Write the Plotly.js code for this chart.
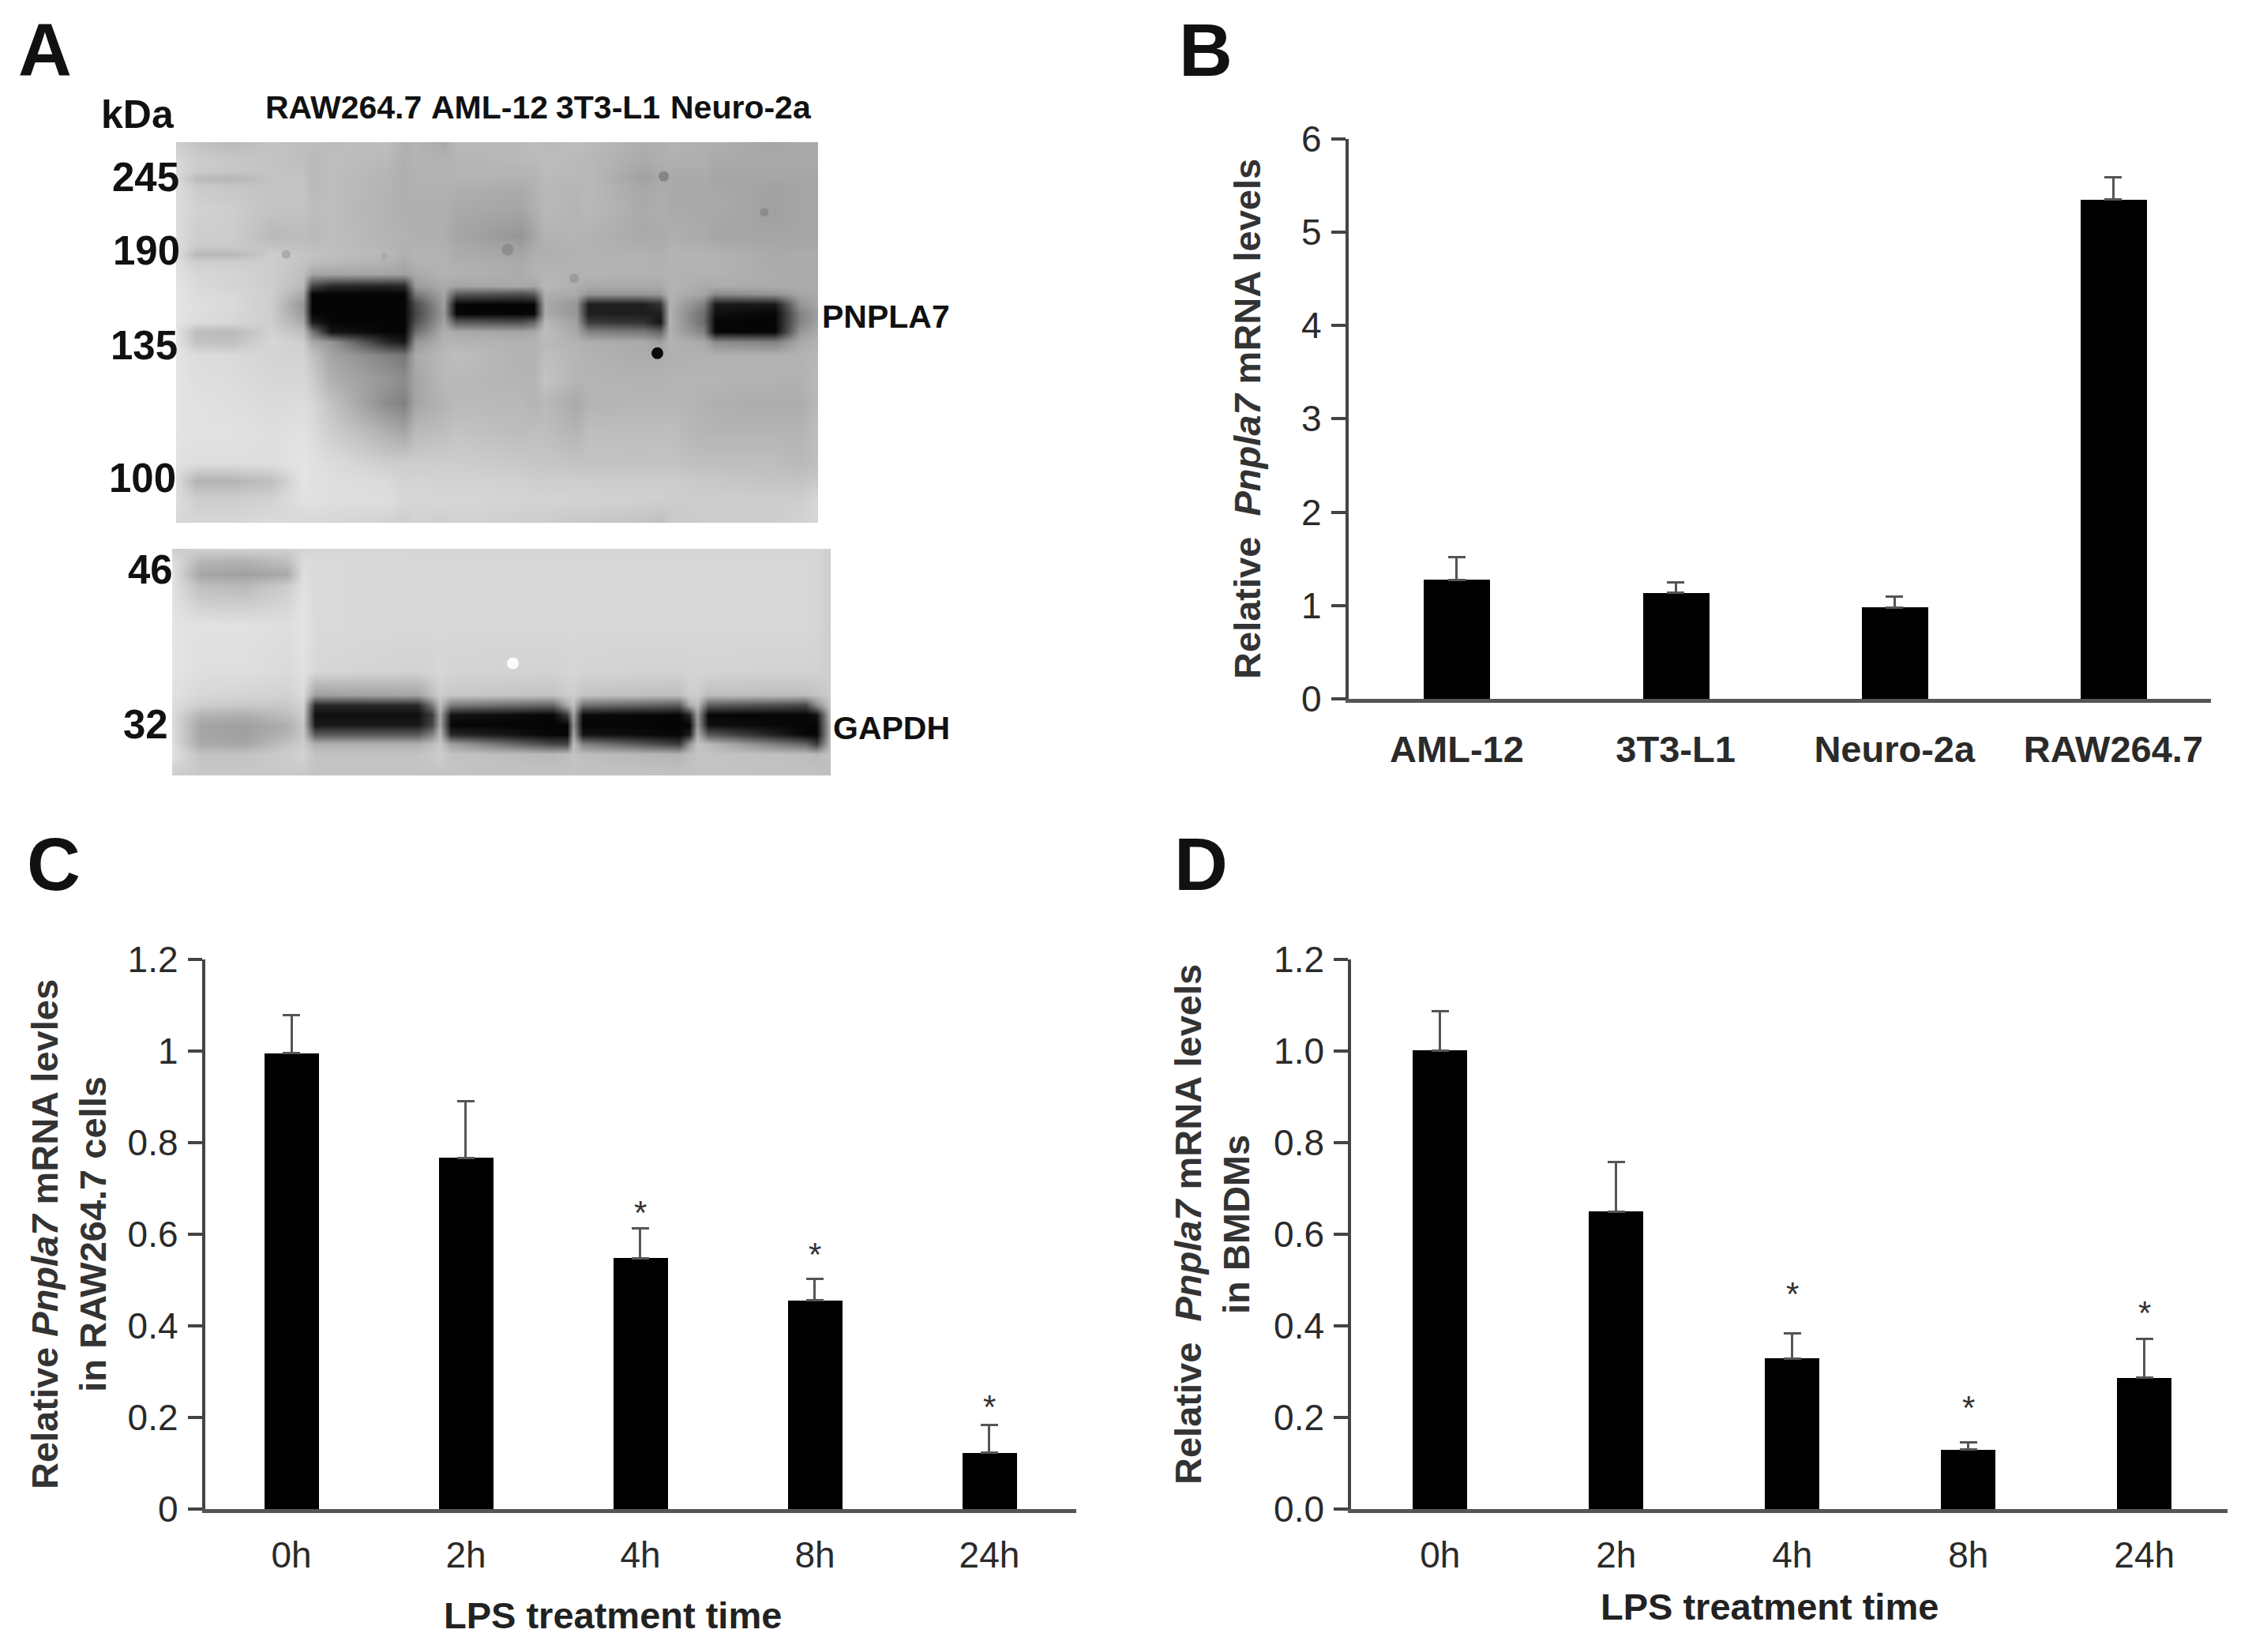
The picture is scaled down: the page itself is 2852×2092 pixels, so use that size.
<!DOCTYPE html>
<html><head><meta charset="utf-8">
<script src="https://cdn.plot.ly/plotly-3.0.1.min.js"></script>
<style>html,body{margin:0;padding:0;background:#fff}</style></head>
<body><div id="chart" style="width:2852px;height:2092px"></div>
<script>
// Panel B
const catsB = ['AML-12','3T3-L1','Neuro-2a','RAW264.7'];
const valsB = [1.277,1.134,0.98,5.35];
const errB  = [0.241,0.11,0.116,0.24];
// Panel C
const timeCats = ['0h','2h','4h','8h','24h'];
const valsC = [0.995,0.767,0.548,0.456,0.123];
const errC  = [0.084,0.124,0.065,0.047,0.06];
const starC = [null,null,0.661,0.569,0.237];
// Panel D
const valsD = [1.001,0.65,0.329,0.13,0.287];
const errD  = [0.086,0.107,0.054,0.016,0.084];
const starD = [null,null,0.483,0.235,0.442];
// Panel A labels
const laneLabels = ['RAW264.7','AML-12','3T3-L1','Neuro-2a'];
const ladderTop = ['245','190','135','100'];
const ladderBottom = ['46','32'];
// Panel A: grey levels read from the blot at irregular nodes
const blotTopX = [224,250,295,345,385,396,420,490,512,526,562,578,660,676,690,730,745,815,835,847,890,905,980,1012,1035];
const blotTopY = [182,205,218,228,238,265,300,313,323,333,348,362,372,385,397,408,420,433,450,480,510,545,585,607,630,660];
const blotTopZ = [
[205,195,185,195,190,190,188,190,175,180,170,185,185,190,185,190,185,175,175,180,175,175,165,170,170],
[215,205,200,195,190,185,190,185,175,180,178,180,185,185,190,185,185,170,175,175,175,170,170,170,170],
[218,203,198,195,192,185,190,182,175,178,178,180,180,182,188,185,185,165,172,172,172,168,168,168,168],
[220,186,182,195,195,185,190,180,175,178,178,180,178,180,185,185,185,160,170,170,170,165,165,165,165],
[220,203,198,195,195,186,190,180,175,177,177,176,172,178,185,182,185,168,172,170,170,168,162,165,165],
[220,210,205,195,195,188,190,178,175,175,175,170,165,175,185,180,185,170,175,170,170,170,160,165,165],
[220,205,205,185,188,185,190,180,178,175,175,165,150,165,178,180,178,170,170,175,170,165,165,165,165],
[221,202,202,195,192,190,190,182,176,178,176,170,160,172,176,178,178,174,172,178,175,172,168,168,168],
[222,184,184,205,195,195,190,185,175,180,178,172,165,175,175,178,178,178,175,180,180,178,170,172,172],
[223,206,206,205,195,190,186,178,170,178,178,175,170,176,178,178,179,178,176,179,179,178,171,172,172],
[225,215,212,205,190,165,165,165,160,170,178,178,172,178,180,178,180,178,178,178,178,178,172,172,172],
[228,218,212,205,185,70,40,35,40,155,170,165,170,165,185,175,170,170,170,180,170,172,172,172,172],
[228,220,215,205,170,5,5,5,5,120,165,90,80,90,175,170,150,150,155,178,165,140,150,165,170],
[228,222,218,205,150,5,5,5,5,75,160,5,5,5,170,150,30,30,50,178,130,25,25,150,165],
[228,222,215,205,155,5,5,5,5,70,155,5,5,5,170,150,30,30,30,178,110,15,5,130,160],
[228,220,215,205,170,30,5,5,5,80,165,90,80,100,185,160,60,50,20,178,110,5,5,130,165],
[228,188,186,210,190,120,20,5,5,110,175,170,165,170,190,168,130,120,100,178,130,5,5,150,172],
[228,195,192,215,205,170,150,40,25,150,180,180,178,178,185,178,175,170,160,178,170,140,130,170,178],
[228,220,218,212,210,195,165,130,120,170,185,190,178,178,190,182,178,172,172,175,178,178,178,178,182],
[228,222,220,215,215,205,175,150,140,165,185,185,180,180,195,180,180,178,178,180,180,180,178,178,185],
[228,225,222,218,220,215,195,140,130,165,180,185,185,180,185,170,180,182,182,182,178,175,172,172,185],
[228,225,225,222,225,220,205,175,165,185,190,195,188,190,190,180,190,188,190,190,180,180,180,180,190],
[225,222,222,222,228,225,220,205,205,205,205,205,200,198,198,195,195,195,195,195,190,190,190,185,190],
[220,180,180,192,228,225,222,218,210,212,210,210,208,205,205,205,205,205,205,205,200,200,195,195,200],
[222,205,205,210,225,225,222,222,215,215,215,215,212,210,212,210,210,208,208,205,205,205,205,205,215],
[215,215,215,218,215,215,215,210,205,210,205,210,205,205,205,200,200,195,190,200,205,205,205,210,215]];
const blotBottomX = [219,255,310,365,385,400,530,548,558,572,700,718,726,738,860,873,883,897,1020,1034,1052];
const blotBottomY = [695,712,727,742,790,850,880,893,905,918,930,942,955,982];
const blotBottomZ = [
[205,208,208,208,212,214,214,214,214,214,214,214,214,214,214,214,214,214,214,214,205],
[225,180,175,190,220,218,216,216,216,216,216,216,216,216,216,216,216,216,216,214,205],
[225,165,160,170,222,218,216,216,216,216,216,216,216,216,216,216,216,216,216,214,205],
[225,190,185,205,225,218,216,216,216,216,216,216,216,216,216,216,216,216,216,214,205],
[228,225,225,222,228,218,216,216,216,216,216,216,216,216,216,216,216,216,216,214,205],
[228,222,222,218,225,215,210,212,215,212,210,212,214,212,210,212,212,212,210,210,205],
[225,215,212,210,218,160,165,190,205,200,195,205,205,195,190,205,205,190,190,195,205],
[222,205,200,200,212,40,40,120,190,120,100,170,190,110,90,170,190,90,70,140,200],
[220,180,175,190,205,15,15,60,170,20,5,60,165,10,5,40,160,5,5,20,195],
[220,165,160,175,200,25,25,70,170,5,5,5,150,5,5,5,155,15,5,5,190],
[222,165,160,180,200,90,90,130,185,40,5,5,165,20,5,30,175,90,5,5,190],
[222,170,165,195,205,175,175,190,200,160,70,70,190,130,60,150,195,185,100,60,195],
[225,195,195,205,210,195,195,200,205,195,185,190,195,190,180,190,195,195,190,185,195],
[205,200,200,200,200,195,195,195,195,195,195,195,195,195,195,195,195,195,195,195,190]];
const speckX = [832,643,727,840,967,363,487];
const speckY = [447,317,353,225,270,323,325];
const speckSize = [15,15,12,13,11,11,9];
const speckGrey = ['#000','#777','#888','#666','#777','#888','#999'];
const speckAlpha = [0.95,0.5,0.5,0.55,0.5,0.45,0.4];
const spotX = [650]; const spotY = [840];

const W = 2852, H = 2092;
const FONT = '"Liberation Sans", Arial, sans-serif';
const INK = '#2a2a2a';
const domX = (a,b)=>[a/W,b/W];
const domY = (t,b)=>[1-b/H,1-t/H];
const grey = [[0,'#000'],[1,'#fff']];

function bars(cats, vals, errs, w, xa, ya){
  return {type:'bar',x:cats,y:vals,xaxis:xa,yaxis:ya,width:w,
    marker:{color:'#000',line:{width:0}},
    error_y:{type:'data',array:errs,arrayminus:errs.map(()=>0),symmetric:false,color:'#555',thickness:3,width:11},
    hoverinfo:'skip'};
}
const data = [
  bars(catsB,valsB,errB,0.303,'x','y'),
  bars(timeCats,valsC,errC,0.312,'x2','y2'),
  bars(timeCats,valsD,errD,0.31,'x3','y3'),
  {type:'heatmap',x:blotTopX,y:blotTopY,z:blotTopZ,xaxis:'x4',yaxis:'y4',colorscale:grey,zmin:0,zmax:255,zsmooth:'best',showscale:false,hoverinfo:'skip'},
  {type:'heatmap',x:blotBottomX,y:blotBottomY,z:blotBottomZ,xaxis:'x5',yaxis:'y5',colorscale:grey,zmin:0,zmax:255,zsmooth:'best',showscale:false,hoverinfo:'skip'},
  {type:'scatter',mode:'markers',x:speckX,y:speckY,xaxis:'x4',yaxis:'y4',marker:{size:speckSize,color:speckGrey,opacity:speckAlpha,line:{width:0}},hoverinfo:'skip'},
  {type:'scatter',mode:'markers',x:spotX,y:spotY,xaxis:'x5',yaxis:'y5',marker:{size:15,color:'#fff',opacity:0.9,line:{width:0}},hoverinfo:'skip'}
];
function yAxis(dom, range, extra){
  return Object.assign({domain:dom,range:range,fixedrange:true,showgrid:false,zeroline:false,
    showline:true,linecolor:'#444',linewidth:3.5,ticks:'outside',ticklen:18,tickwidth:3.5,tickcolor:'#444',ticklabelstandoff:3,
    tickfont:{family:FONT,size:46,color:INK}},extra);
}
function xAxis(dom, range, extra){
  return Object.assign({domain:dom,range:range,type:'category',fixedrange:true,showgrid:false,zeroline:false,
    showline:true,linecolor:'#555',linewidth:4.5,ticks:'outside',ticklen:14,tickwidth:1,tickcolor:'rgba(0,0,0,0)',
    tickfont:{family:FONT,size:46,color:INK}},extra);
}
const titleFont = {family:FONT,size:47,color:'#333',weight:'bold'};
const xTitleFont = {family:FONT,size:47,color:'#222',weight:'bold'};
const hiddenAxis = (dom,range,extra)=>Object.assign({domain:dom,range:range,visible:false,fixedrange:true},extra);

const layout = {
  width:W,height:H,margin:{l:0,r:0,t:0,b:0,pad:0},paper_bgcolor:'#fff',plot_bgcolor:'rgba(0,0,0,0)',
  showlegend:false,hovermode:false,bargap:0,font:{family:FONT,color:INK},
  xaxis: xAxis(domX(1707.5,2800),[-0.496,3.446],{anchor:'y',ticklen:19,tickfont:{family:FONT,size:47,color:INK,weight:'bold'}}),
  yaxis: yAxis(domY(175.7,885),[0,6],{anchor:'x',dtick:1,tick0:0,
    title:{text:'Relative  <i>Pnpla7</i> mRNA levels',font:titleFont,standoff:37}}),
  xaxis2: xAxis(domX(259.5,1363),[-0.4955,4.498],{anchor:'y2'}),
  yaxis2: yAxis(domY(1215,1911),[0,1.2],{anchor:'x2',dtick:0.2,tick0:0,
    title:{text:'Relative <i>Pnpla7</i> mRNA levles<br>in RAW264.7 cells',font:titleFont,standoff:13}}),
  xaxis3: xAxis(domX(1711,2821),[-0.5054,4.472],{anchor:'y3'}),
  yaxis3: yAxis(domY(1215,1911),[0,1.2],{anchor:'x3',dtick:0.2,tick0:0,tickformat:'.1f'}),
  xaxis4: hiddenAxis(domX(223,1036),[224,1035],{anchor:'y4'}),
  yaxis4: hiddenAxis(domY(180,662),[660,182],{anchor:'x4'}),
  xaxis5: hiddenAxis(domX(218,1052),[219,1052],{anchor:'y5'}),
  yaxis5: hiddenAxis(domY(695,982),[982,695],{anchor:'x5'}),
  annotations:[]
};
function note(text,x,y,size,opts){
  layout.annotations.push(Object.assign({text:text,x:x/W,y:1-y/H,xref:'paper',yref:'paper',xanchor:'center',yanchor:'middle',
    showarrow:false,font:{family:FONT,size:size,color:'#111',weight:'bold'}},opts||{}));
}
note('A',57,64,94); note('B',1527,64,94); note('C',68,1094,94); note('D',1521,1094,94);
note('kDa',174,145,50);
[435,620,770,938].forEach((x,i)=>note(laneLabels[i],x,136,41));
[224,318,437,605].forEach((y,i)=>note(ladderTop[i],[184,185,182,180][i],y,51));
[721,917].forEach((y,i)=>note(ladderBottom[i],[190,184][i],y,51));
note('PNPLA7',1122,401,41); note('GAPDH',1129,922,41);
note('LPS treatment time',776,2045,47,{font:xTitleFont});
note('LPS treatment time',2241,2034,47,{font:xTitleFont});
note('Relative  <i>Pnpla7</i> mRNA levels<br>in BMDMs',1535,1551,47,{textangle:-90,font:titleFont});
function stars(vals,xa,ya){
  vals.forEach((v,i)=>{ if(v===null) return;
    layout.annotations.push({text:'*',x:i,y:v,xref:xa,yref:ya,showarrow:false,yanchor:'middle',xanchor:'center',yshift:-8,
      font:{family:FONT,size:42,color:'#333'}});
  });
}
stars(starC,'x2','y2'); stars(starD,'x3','y3');
Plotly.newPlot('chart',data,layout,{displayModeBar:false,responsive:false});
</script></body></html>
